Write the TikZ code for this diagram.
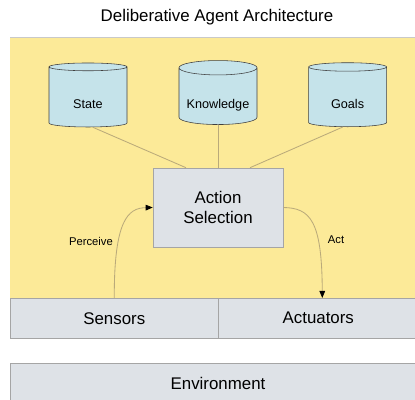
\documentclass[tikz,border=0pt]{standalone}
\usepackage{fontspec}
\setmainfont{Liberation Sans}
\usetikzlibrary{shapes.geometric, arrows.meta}

\definecolor{panelyellow}{RGB}{252,234,152}
\definecolor{drumblue}{RGB}{197,227,234}
\definecolor{boxgray}{RGB}{222,226,231}
\definecolor{edgegray}{RGB}{165,165,165}
\definecolor{wiretan}{RGB}{186,170,122}

\tikzset{
  drum/.style={cylinder, shape border rotate=90, aspect=0.2, draw=black!75,
    fill=drumblue, minimum width=1.95cm, minimum height=1.6cm,
    text height=15pt, text depth=0pt, font=\fontsize{9}{10}\selectfont},
  bar/.style={draw=edgegray, fill=boxgray, font=\fontsize{12}{14}\selectfont},
  wire/.style={draw=wiretan, line width=0.6pt},
  tip/.style={-{Triangle[black, length=5pt, width=4pt]}}
}

\begin{document}
\begin{tikzpicture}
  \useasboundingbox (0,0) rectangle (10.375,10);
  % title
  \node (title) at (5.425,9.575) {\fontsize{12}{14}\selectfont Deliberative Agent Architecture};
  % agent panel
  \fill[panelyellow] (0.25,2.55) rectangle (10.45,9.075);
  \draw[edgegray!60] (0.25,9.075) -- (10.45,9.075);
  % stores
  \node[drum] (state) at (2.2,7.55) {State};
  \node[drum] (know)  at (5.45,7.55) {Knowledge};
  \node[drum] (goals) at (8.69,7.55) {Goals};
  % action selection
  \node[bar, minimum width=3.25cm, minimum height=1.975cm, align=center]
    (act) at (5.45,4.8125) {Action\\Selection};
  \draw[wire] ([xshift=0.12cm]state.south) -- ([xshift=-0.8cm]act.north);
  \draw[wire] (know.south) -- (act.north);
  \draw[wire] ([xshift=-0.12cm]goals.south) -- ([xshift=0.8cm]act.north);
  % sensors and actuators
  \node[bar, anchor=north west, minimum width=5.2cm, minimum height=1cm]
    (sens) at (0.25,2.55) {Sensors};
  \node[bar, anchor=north west, minimum width=5.0cm, minimum height=1cm]
    (actu) at (5.45,2.55) {Actuators};
  % environment
  \node[bar, anchor=north west, minimum width=10.3cm, minimum height=1.1cm]
    (env) at (0.25,0.925) {};
  \node at (5.45,0.425) {\fontsize{12}{14}\selectfont Environment};
  % perceive / act
  \draw[wire, tip] (sens.north) .. controls (2.85,4.5) and (3.2,4.8) .. (act.west);
  \draw[wire, tip] (act.east) .. controls (7.75,4.8) and (8.05,4.5) .. ([xshift=0.1cm]actu.north);
  \node at (2.275,3.975) {\fontsize{8}{9}\selectfont Perceive};
  \node at (8.4,4.0) {\fontsize{8}{9}\selectfont Act};
\end{tikzpicture}
\end{document}
